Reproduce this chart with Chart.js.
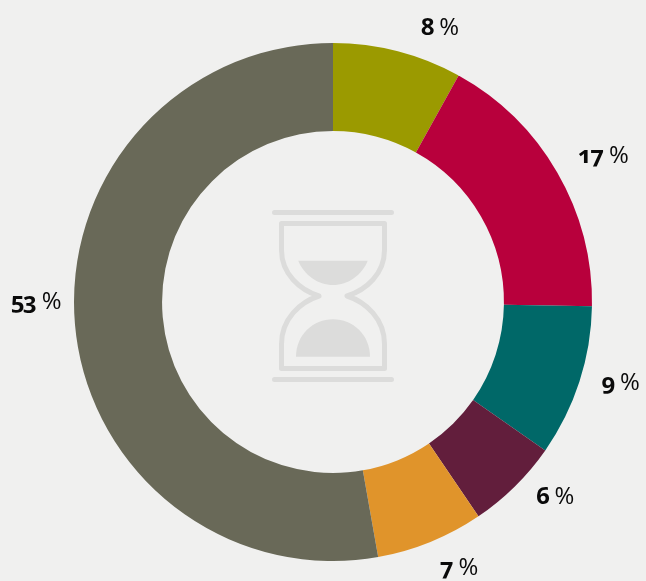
<!DOCTYPE html>
<html>
<head>
<meta charset="utf-8">
<script src="https://cdn.jsdelivr.net/npm/chart.js@4"></script>
<style>
    html, body { margin: 0; padding: 0; background: #f0f0ef; overflow: hidden; }
    #wrap { position: relative; width: 646px; height: 581px; }
    .pct {
        position: absolute;
        transform: translate(-50%, -50%);
        font-family: "Open Sans", "Noto Sans", sans-serif;
        font-size: 24px;
        line-height: 1;
        color: #0a0a0a;
        white-space: nowrap;
        font-feature-settings: "onum" 1;
        font-variant-numeric: oldstyle-nums;
    }
    .pct b { font-weight: 700; letter-spacing: -1.5px; }
    .pct span { font-weight: 400; }
</style>
</head>
<body>
<div id="wrap"><canvas id="shareChart" width="646" height="581"></canvas></div>
<script>
// Ring shares, clockwise from 12 o'clock
const shareNames = ['A', 'B', 'C', 'D', 'E', 'F'];
const shareValues = [8.06, 17.2, 9.45, 5.8, 6.7, 52.79];
const shareLabels = ['8', '17', '9', '6', '7', '53'];
const shareColors = ['#9b9a00', '#b8003c', '#006868', '#621e3c', '#e0942b', '#696958'];

// label nudges away from the slice middle (px)
const labelGap = 36;
const labelNudge = [[33, 10], [15, 0], [7, -12], [15, -17], [15, -9], [-3, -28]];

const ICON = '#dcdcdb';

// Hourglass in the hole, offsets from the ring centre
const hourglass = {
    id: 'hourglass',
    afterDraw(chart) {
        const arc = chart.getDatasetMeta(0).data[0];
        const ctx = chart.ctx;
        ctx.save();
        ctx.translate(arc.x, arc.y);
        ctx.strokeStyle = ICON;
        ctx.fillStyle = ICON;
        ctx.lineJoin = 'round';
        ctx.lineCap = 'round';
        ctx.lineWidth = 5;

        ctx.beginPath();
        ctx.moveTo(-58.5, -89.5);
        ctx.lineTo(58.5, -89.5);
        ctx.moveTo(-58.5, 77.5);
        ctx.lineTo(58.5, 77.5);
        ctx.stroke();

        ctx.beginPath();
        ctx.moveTo(-51.5, -78.5);
        ctx.lineTo(51.5, -78.5);
        ctx.lineTo(51.5, -52);
        ctx.bezierCurveTo(51.5, -28, 33, -12, 14, -6);
        ctx.bezierCurveTo(33, 0, 51.5, 17, 51.5, 42);
        ctx.lineTo(51.5, 66.5);
        ctx.lineTo(-51.5, 66.5);
        ctx.lineTo(-51.5, 42);
        ctx.bezierCurveTo(-51.5, 17, -33, 0, -14, -6);
        ctx.bezierCurveTo(-33, -12, -51.5, -28, -51.5, -52);
        ctx.closePath();
        ctx.stroke();

        ctx.beginPath();
        ctx.moveTo(-34.7, -41.3);
        ctx.lineTo(34.7, -41.3);
        ctx.bezierCurveTo(29, -27, 15, -17, 0, -17);
        ctx.bezierCurveTo(-15, -17, -29, -27, -34.7, -41.3);
        ctx.fill();

        ctx.beginPath();
        ctx.moveTo(-37, 54.7);
        ctx.lineTo(37, 54.7);
        ctx.bezierCurveTo(37, 33, 20, 17.3, 0, 17.3);
        ctx.bezierCurveTo(-20, 17.3, -37, 33, -37, 54.7);
        ctx.fill();
        ctx.restore();
    }
};

// Percent labels sit just outside each slice
const outerLabels = {
    id: 'outerLabels',
    afterDraw(chart) {
        const wrap = document.getElementById('wrap');
        chart.getDatasetMeta(0).data.forEach((arc, i) => {
            const mid = (arc.startAngle + arc.endAngle) / 2;
            const r = arc.outerRadius + labelGap;
            const el = document.createElement('div');
            el.className = 'pct';
            el.innerHTML = '<b>' + shareLabels[i] + '</b><span> %</span>';
            el.style.left = (arc.x + Math.cos(mid) * r + labelNudge[i][0]) + 'px';
            el.style.top = (arc.y + Math.sin(mid) * r + labelNudge[i][1]) + 'px';
            wrap.appendChild(el);
        });
    }
};

new Chart(document.getElementById('shareChart').getContext('2d'), {
    type: 'doughnut',
    data: {
        labels: shareNames,
        datasets: [{
            data: shareValues,
            backgroundColor: shareColors,
            borderWidth: 0
        }]
    },
    options: {
        responsive: false,
        animation: false,
        cutout: '66%',
        layout: { padding: { left: 74, right: 54, top: 43, bottom: 20 } },
        plugins: {
            legend: { display: false },
            tooltip: { enabled: false }
        }
    },
    plugins: [hourglass, outerLabels]
});
</script>
</body>
</html>
